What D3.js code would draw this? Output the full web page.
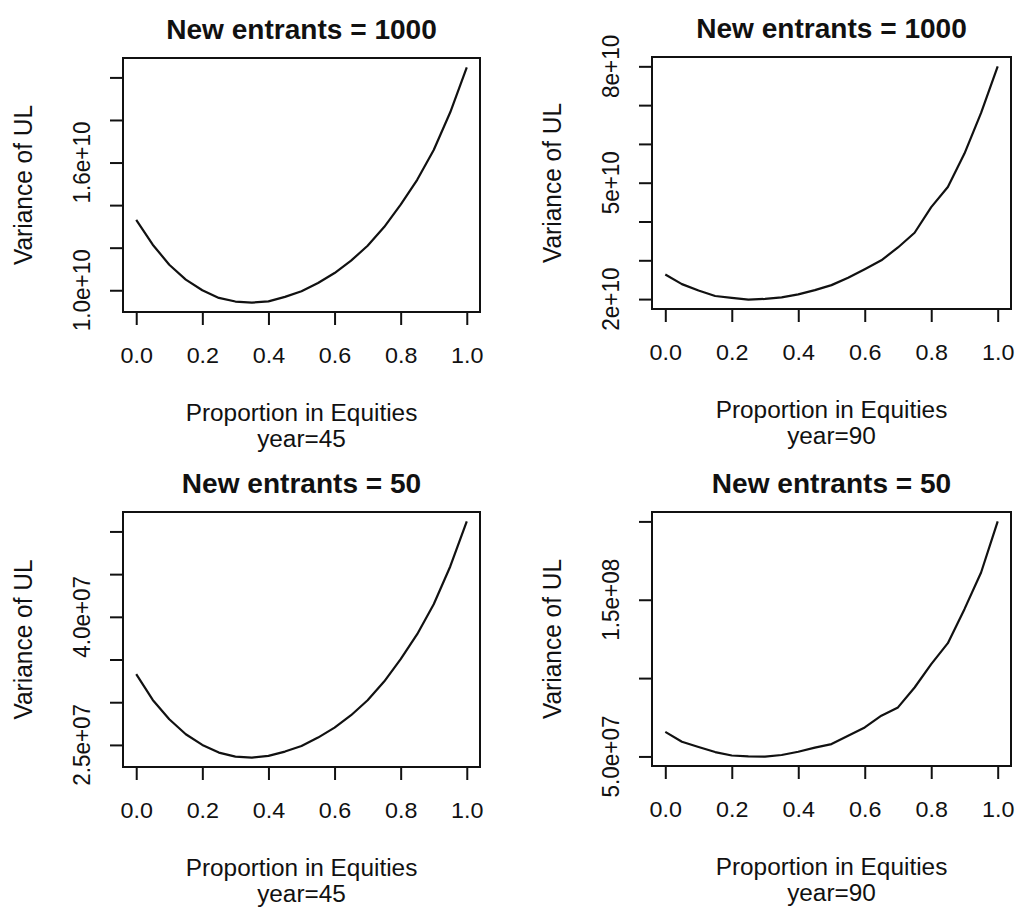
<!DOCTYPE html>
<html>
<head>
<meta charset="utf-8">
<script src="https://cdn.jsdelivr.net/npm/d3@7"></script>
<style>
  html, body { margin: 0; padding: 0; background: #fff; }
  svg { display: block; }
  text { font-family: "Liberation Sans", Arial, Helvetica, sans-serif; fill: #111; }
</style>
</head>
<body>
<svg id="chart" width="1018" height="911"></svg>
<script>
// Proportion of the fund held in equities (x values shared by all panels)
const proportion = [0, 0.05, 0.1, 0.15, 0.2, 0.25, 0.3, 0.35, 0.4, 0.45, 0.5,
                    0.55, 0.6, 0.65, 0.7, 0.75, 0.8, 0.85, 0.9, 0.95, 1.0];

// Variance of UL, 1000 new entrants, year 45
const variance1000Year45 = [1.331e10, 1.214e10, 1.120e10, 1.050e10, 1.000e10, 0.964e10, 0.947e10,
                            0.942e10, 0.948e10, 0.969e10, 0.995e10, 1.034e10, 1.081e10, 1.139e10,
                            1.209e10, 1.297e10, 1.402e10, 1.519e10, 1.659e10, 1.836e10, 2.047e10];
// Variance of UL, 1000 new entrants, year 90
const variance1000Year90 = [2.632e10, 2.385e10, 2.220e10, 2.080e10, 2.030e10, 1.985e10, 2.005e10,
                            2.045e10, 2.120e10, 2.230e10, 2.360e10, 2.550e10, 2.770e10, 3.000e10,
                            3.330e10, 3.710e10, 4.370e10, 4.890e10, 5.750e10, 6.800e10, 8.000e10];
// Variance of UL, 50 new entrants, year 45
const variance50Year45 = [3.328e7, 3.027e7, 2.800e7, 2.625e7, 2.500e7, 2.410e7, 2.363e7,
                          2.352e7, 2.371e7, 2.422e7, 2.488e7, 2.586e7, 2.703e7, 2.848e7,
                          3.023e7, 3.242e7, 3.504e7, 3.797e7, 4.148e7, 4.590e7, 5.117e7];
// Variance of UL, 50 new entrants, year 90
const variance50Year90 = [0.657e8, 0.594e8, 0.560e8, 0.528e8, 0.506e8, 0.501e8, 0.499e8,
                          0.509e8, 0.530e8, 0.556e8, 0.579e8, 0.632e8, 0.685e8, 0.760e8,
                          0.813e8, 0.940e8, 1.089e8, 1.223e8, 1.440e8, 1.674e8, 2.000e8];

// Axis ticks
const xTicks = [0, 0.2, 0.4, 0.6, 0.8, 1.0];
const yTicks1000Year45 = [1.0e10, 1.2e10, 1.4e10, 1.6e10, 1.8e10, 2.0e10];
const yLabels1000Year45 = ["1.0e+10", "1.6e+10"];
const yTicks1000Year90 = [2e10, 3e10, 4e10, 5e10, 6e10, 7e10, 8e10];
const yLabels1000Year90 = ["2e+10", "5e+10", "8e+10"];
const yTicks50Year45 = [2.5e7, 3.0e7, 3.5e7, 4.0e7, 4.5e7, 5.0e7];
const yLabels50Year45 = ["2.5e+07", "4.0e+07"];
const yTicks50Year90 = [0.5e8, 1.0e8, 1.5e8, 2.0e8];
const yLabels50Year90 = ["5.0e+07", "1.5e+08"];

// Panel text
const titles = ["New entrants = 1000", "New entrants = 1000", "New entrants = 50", "New entrants = 50"];
const yearLabels = ["year=45", "year=90", "year=45", "year=90"];
const xTitle = "Proportion in Equities";
const yTitle = "Variance of UL";

const panels = [
  { values: variance1000Year45, ticks: yTicks1000Year45, labels: yLabels1000Year45, left: 123, top: 58,  w: 357, h: 254 },
  { values: variance1000Year90, ticks: yTicks1000Year90, labels: yLabels1000Year90, left: 652, top: 57,  w: 359, h: 252 },
  { values: variance50Year45,   ticks: yTicks50Year45,   labels: yLabels50Year45,   left: 123, top: 512, w: 357, h: 255 },
  { values: variance50Year90,   ticks: yTicks50Year90,   labels: yLabels50Year90,   left: 652, top: 512, w: 359, h: 254 }
];

const svg = d3.select("#chart");
svg.append("rect").attr("width", 1018).attr("height", 911).attr("fill", "#fff");

const TICK = 13;
const WIDE = 1.06; // glyphs are set slightly wide

panels.forEach((p, i) => {
  // R-style ranges: data range extended by 4% on each side
  const xExt = d3.extent(proportion);
  const xPad = (xExt[1] - xExt[0]) * 0.04;
  const yExt = d3.extent(p.values);
  const yPad = (yExt[1] - yExt[0]) * 0.04;

  const x = d3.scaleLinear().domain([xExt[0] - xPad, xExt[1] + xPad]).range([0, p.w]);
  const y = d3.scaleLinear().domain([yExt[0] - yPad, yExt[1] + yPad]).range([p.h, 0]);

  const g = svg.append("g").attr("transform", `translate(${p.left},${p.top})`);

  // x axis: ticks and labels
  const xAxis = d3.axisBottom(x).tickValues(xTicks).tickFormat(d3.format(".1f"))
    .tickSize(TICK).tickPadding(0);
  const gx = g.append("g").attr("transform", `translate(0,${p.h})`).call(xAxis);
  gx.select(".domain").remove();
  gx.selectAll(".tick line").attr("stroke", "#111").attr("stroke-width", 2);
  gx.selectAll(".tick text")
    .attr("y", 51).attr("dy", null)
    .attr("transform", `scale(${WIDE},1)`)
    .attr("font-size", 22)
    .style("font-family", "'Liberation Sans', Arial, sans-serif")
    .attr("fill", "#111");

  // y axis: all tick marks, labels only where R had room for them
  const yAxis = d3.axisLeft(y).tickValues(p.ticks).tickSize(TICK).tickFormat(() => "");
  const gy = g.append("g").call(yAxis);
  gy.select(".domain").remove();
  gy.selectAll(".tick line").attr("stroke", "#111").attr("stroke-width", 2);
  gy.selectAll(".tick text").remove();

  g.selectAll("text.ylab").data(p.labels).enter().append("text")
    .attr("class", "ylab")
    .attr("transform", d => `translate(-33,${y(Number(d))}) rotate(-90) scale(1,${WIDE})`)
    .attr("text-anchor", "middle")
    .attr("font-size", 22.5)
    .text(d => d);

  // curve
  const line = d3.line().x((d, k) => x(proportion[k])).y(d => y(d));
  g.append("path").datum(p.values)
    .attr("d", line)
    .attr("fill", "none")
    .attr("stroke", "#111")
    .attr("stroke-width", 2.2)
    .attr("stroke-linejoin", "round");

  // plot frame
  g.append("rect").attr("x", 0).attr("y", 0).attr("width", p.w).attr("height", p.h)
    .attr("fill", "none").attr("stroke", "#111").attr("stroke-width", 2);

  // titles
  g.append("text")
    .attr("transform", `translate(${p.w / 2},-19) scale(1.04,1)`)
    .attr("text-anchor", "middle")
    .attr("font-size", 27).attr("font-weight", "bold")
    .text(titles[i]);

  g.append("text")
    .attr("transform", `translate(${p.w / 2},${p.h + 109}) scale(${WIDE},1)`)
    .attr("text-anchor", "middle")
    .attr("font-size", 23)
    .text(xTitle);

  g.append("text")
    .attr("transform", `translate(${p.w / 2},${p.h + 135}) scale(${WIDE},1)`)
    .attr("text-anchor", "middle")
    .attr("font-size", 23)
    .text(yearLabels[i]);

  g.append("text")
    .attr("transform", `translate(-91,${p.h / 2}) rotate(-90) scale(1,${WIDE})`)
    .attr("text-anchor", "middle")
    .attr("font-size", 24.5)
    .text(yTitle);
});
</script>
</body>
</html>
